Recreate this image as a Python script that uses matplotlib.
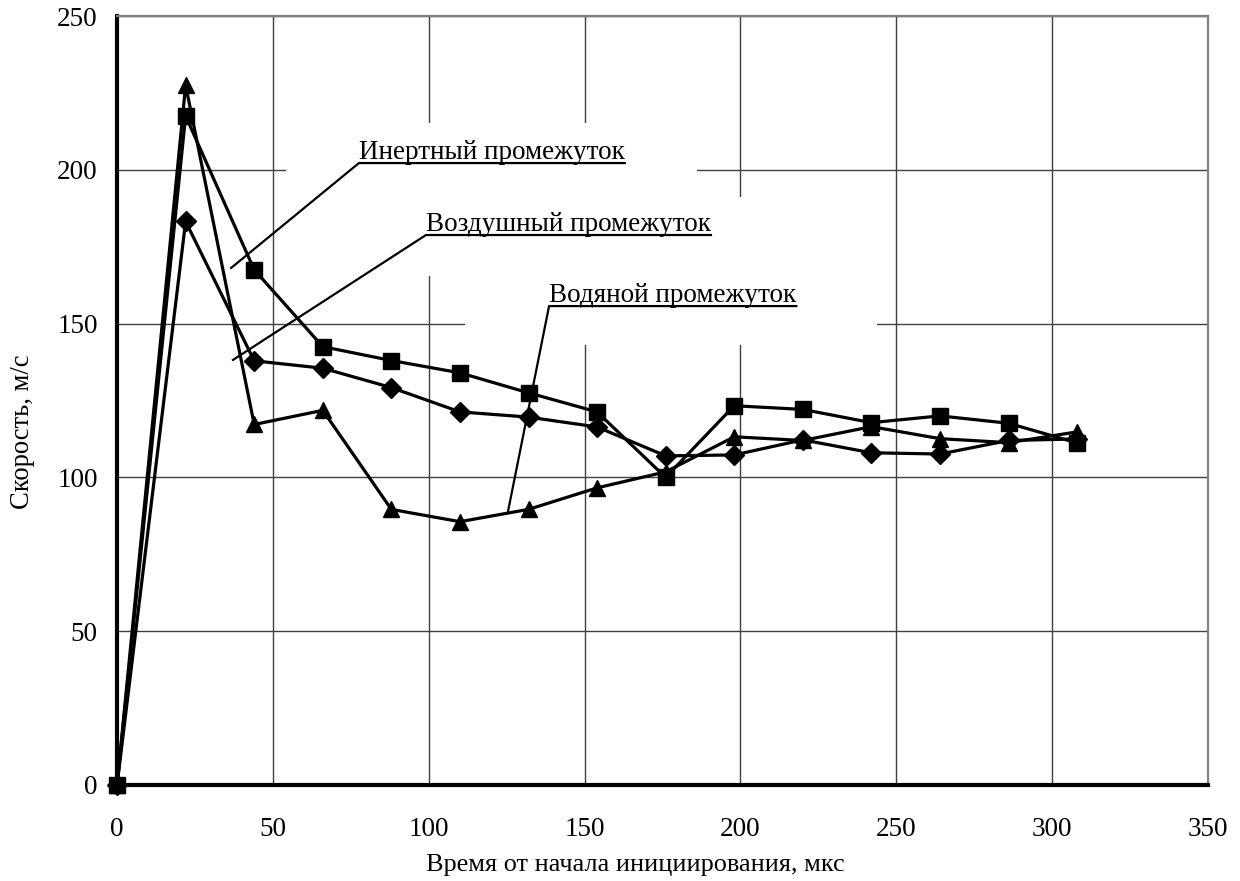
import matplotlib.pyplot as plt
from matplotlib.patches import Rectangle

# время, мкс
t = [0, 22, 44, 66, 88, 110, 132, 154, 176, 198, 220, 242, 264, 286, 308]
# скорость, м/с
inert = [0, 217.5, 167.5, 142.5, 138, 134, 127.5, 121.3, 100, 123.3, 122.1, 117.8, 120, 117.6, 111.2]
vozd = [0, 183.2, 137.9, 135.5, 129.2, 121.3, 119.6, 116.4, 107, 107.3, 112.2, 108, 107.6, 112, 112.5]
vodn = [0, 227.5, 117.2, 121.8, 89.6, 85.6, 89.6, 96.6, 101.8, 113.2, 112, 116.5, 112.6, 111.3, 114.8]

xticks = [0, 50, 100, 150, 200, 250, 300, 350]
yticks = [0, 50, 100, 150, 200, 250]

plt.rcParams['font.family'] = ['Liberation Serif', 'DejaVu Serif']
FS = 19.5

fig = plt.figure(figsize=(12.4, 8.81), dpi=100)
ax = fig.add_axes([0.0944, 0.109, 0.8798, 0.8728])

ax.set_xlim(0, 350)
ax.set_ylim(0, 250)
ax.set_xticks(xticks)
ax.set_yticks(yticks)
ax.tick_params(length=0, labelsize=FS)
ax.tick_params(axis='x', pad=23)
ax.tick_params(axis='y', pad=14)
ax.grid(True, color='#404040', lw=1)
ax.set_axisbelow(True)

for s in ['left', 'bottom']:
    ax.spines[s].set_linewidth(3)
    ax.spines[s].set_color('black')
for s in ['top', 'right']:
    ax.spines[s].set_linewidth(1.6)
    ax.spines[s].set_color('#808080')

ax.set_xlabel('Время от начала инициирования, мкс', fontsize=18.9)
ax.set_ylabel('Скорость, м/с', fontsize=19.2)
ax.xaxis.set_label_coords(0.475, -0.090)
ax.yaxis.set_label_coords(-0.075, 0.459)

# белые подложки под подписями (скрывают сетку)
boxes = [(54.2, 190.2, 131.9, 25.0),
         (77.0, 165.5, 135.4, 25.7),
         (111.6, 143.0, 132.2, 27.0)]
for bx, by, bw, bh in boxes:
    ax.add_patch(Rectangle((bx, by), bw, bh, facecolor='white', edgecolor='none', zorder=1))

kw = dict(color='black', lw=2.3, zorder=3, clip_on=False)
ax.plot(t, vozd, marker='D', ms=10, **kw)
ax.plot(t, vodn, marker='^', ms=11.5, **kw)
ax.plot(t, inert, marker='s', ms=11, **kw)

labels = [('Инертный промежуток', 77.6, 202.2, 36.6, 168.1),
          ('Воздушный промежуток', 99.1, 178.8, 37.2, 138.2),
          ('Водяной промежуток', 138.6, 155.7, 125.4, 88.8)]

fig.canvas.draw()
r = fig.canvas.get_renderer()
inv = ax.transData.inverted()
for txt, x0, y0, xe, ye in labels:
    tt = ax.text(x0, y0 + 1.2, txt, fontsize=FS, ha='left', va='baseline', zorder=4)
    bb = tt.get_window_extent(r)
    x1 = inv.transform((bb.x1, 0))[0]
    ax.plot([xe, x0, x1], [ye, y0, y0], color='black', lw=1.6, zorder=4)

fig.savefig('out.png', dpi=100)
